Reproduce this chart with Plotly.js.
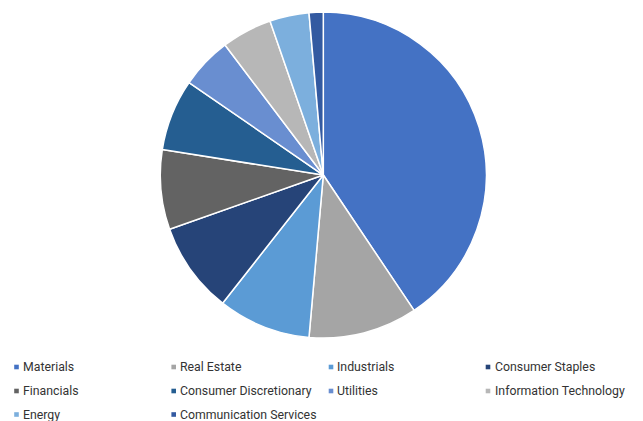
<!DOCTYPE html>
<html>
<head>
<meta charset="utf-8">
<script src="https://cdn.plot.ly/plotly-3.0.1.min.js"></script>
<style>html,body{margin:0;padding:0;background:#fff;}#chart{width:643px;height:421px;}</style>
</head>
<body>
<div id="chart"></div>
<script>
const sectors = ["Materials","Real Estate","Industrials","Consumer Staples","Financials","Consumer Discretionary","Utilities","Information Technology","Energy","Communication Services"];
const weights = [40.6,10.8,9.2,9.0,7.9,7.1,5.1,5.0,3.9,1.4];
const colors = ["#4472C4","#A5A5A5","#5B9BD5","#264478","#636363","#255E91","#698ED0","#B7B7B7","#7CAFDD","#335AA1"];

const W = 643, H = 421;
const trace = {
  type: 'pie',
  labels: sectors,
  values: weights,
  sort: false,
  direction: 'clockwise',
  rotation: 0,
  textinfo: 'none',
  hoverinfo: 'label+percent',
  marker: {colors: colors, line: {color: '#ffffff', width: 1.5}},
  domain: {x: [0.2493, 0.7563], y: [0.197, 0.9715]}
};

// manual legend: 4 columns x 3 rows
const colX = [16.5, 173.7, 331, 488];
const rowY = [367, 391, 414.5];
const shapes = [], annotations = [];
sectors.forEach((s, i) => {
  const cx = colX[i % 4], cy = rowY[Math.floor(i / 4)];
  const h = 2.3;
  shapes.push({type: 'rect', xref: 'paper', yref: 'paper',
    x0: (cx - h) / W, x1: (cx + h) / W, y0: 1 - (cy + h) / H, y1: 1 - (cy - h) / H,
    fillcolor: colors[i], line: {width: 0}});
  annotations.push({xref: 'paper', yref: 'paper', x: (cx + 5.5) / W, y: 1 - cy / H,
    xanchor: 'left', yanchor: 'middle', showarrow: false, text: s, borderpad: 0,
    font: {family: 'Roboto, sans-serif', size: 12.3, color: '#333333'}});
});

const layout = {
  width: W, height: H,
  margin: {l: 0, r: 0, t: 0, b: 0},
  paper_bgcolor: '#ffffff',
  showlegend: false,
  shapes: shapes,
  annotations: annotations,
  font: {family: 'Roboto, sans-serif'}
};

Plotly.newPlot('chart', [trace], layout, {displayModeBar: false, staticPlot: true});
</script>
</body>
</html>
